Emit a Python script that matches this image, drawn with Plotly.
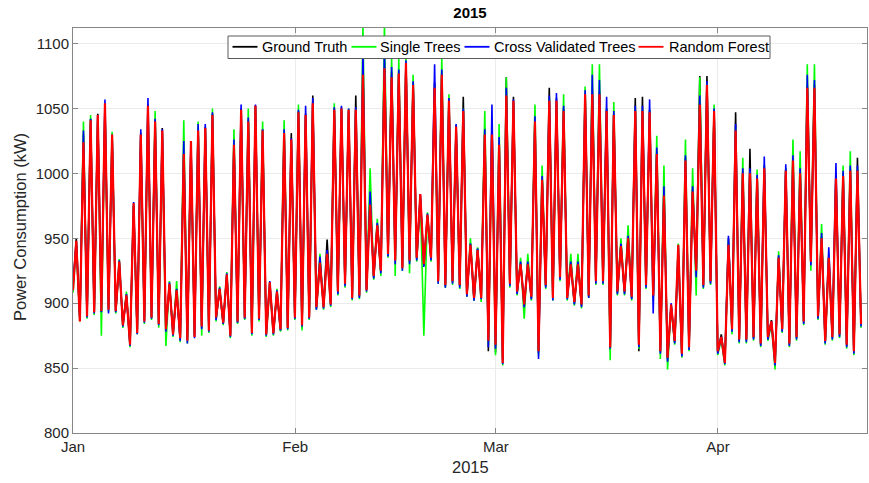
import pandas as pd
import plotly.graph_objects as go

# Hourly power consumption, summarised per day as the daytime peak (kW)
# and the night-time low that follows it, for 110 days from 1 Jan 2015.
start_values = {"Ground Truth": 912, "Single Trees": 908,
                "Cross Validated Trees": 913, "Random Forest": 910}

truth_peak = [950, 1030, 1042, 1046, 1053, 1029, 930, 905, 975, 1031,
              1053, 1041, 1035, 914, 909, 1017, 1022, 1034, 1036, 1046,
              910, 921, 1024, 1050, 1041, 1052, 1034, 915, 908, 1032,
              1031, 1048, 1046, 1060, 932, 949, 1050, 1051, 1048, 1060,
              1080, 978, 961, 1085, 1078, 1079, 1086, 1070, 983, 967,
              1070, 1078, 1057, 1037, 1059, 946, 942, 1035, 1040, 1025,
              1074, 1059, 931, 931, 1042, 997, 1066, 1058, 1050, 931,
              931, 1062, 1065, 1063, 1050, 1046, 945, 951, 1058, 1059,
              1049, 1017, 988, 898, 938, 1012, 988, 1075, 1075, 1049,
              876, 950, 1047, 1002, 1019, 998, 1006, 887, 936, 1004,
              1012, 1002, 1068, 1068, 951, 936, 998, 1000, 1004, 1012]
truth_low = [887, 891, 893, 893, 896, 893, 884, 869, 878, 887,
             889, 885, 879, 877, 872, 872, 875, 881, 880, 888,
             884, 876, 885, 888, 878, 887, 877, 878, 879, 882,
             888, 881, 888, 896, 898, 900, 908, 914, 905, 905,
             911, 920, 924, 937, 934, 928, 932, 934, 929, 934,
             918, 913, 916, 913, 906, 903, 905, 863, 862, 856,
             914, 908, 900, 904, 862, 913, 905, 919, 905, 900,
             898, 905, 916, 916, 864, 908, 908, 904, 863, 913,
             905, 862, 857, 870, 860, 865, 924, 913, 916, 862,
             855, 879, 871, 871, 873, 868, 873, 855, 879, 868,
             873, 885, 931, 889, 870, 873, 875, 867, 862, 883]

single_peak = [945, 1040, 1045, 1043, 1050, 1032, 934, 909, 976, 1028,
               1050, 1048, 1030, 917, 917, 1041, 1022, 1040, 1034, 1050,
               913, 924, 1034, 1047, 1050, 1050, 1040, 914, 911, 1041,
               1024, 1053, 1044, 1052, 938, 940, 1054, 1049, 1050, 1050,
               1115, 1004, 965, 1115, 1089, 1089, 1089, 1076, 982, 970,
               1068, 1089, 1061, 1035, 1050, 950, 943, 1048, 1035, 1038,
               1074, 1055, 935, 938, 1053, 1006, 1058, 1055, 1061, 938,
               938, 1067, 1084, 1084, 1050, 1055, 950, 960, 1050, 1050,
               1049, 1029, 1006, 898, 946, 1026, 1004, 1074, 1070, 1053,
               872, 948, 1035, 1012, 1002, 1003, 1006, 884, 940, 1004,
               1026, 1017, 1084, 1084, 961, 938, 1000, 1006, 1017, 1004]
single_low = [886, 888, 891, 875, 893, 892, 881, 866, 876, 884,
              887, 881, 867, 874, 870, 869, 876, 875, 877, 886,
              883, 873, 884, 887, 875, 886, 874, 875, 878, 879,
              887, 879, 887, 895, 895, 897, 906, 912, 902, 903,
              908, 918, 921, 935, 921, 925, 923, 932, 875, 932,
              915, 912, 914, 911, 905, 902, 901, 868, 860, 852,
              912, 906, 888, 902, 860, 911, 902, 917, 902, 898,
              896, 904, 914, 914, 856, 906, 906, 902, 865, 911,
              902, 857, 849, 868, 858, 863, 906, 911, 914, 860,
              852, 876, 869, 869, 871, 866, 871, 849, 877, 866,
              871, 883, 925, 887, 868, 871, 873, 865, 860, 881]

cv_peak = [947, 1033, 1042, 1045, 1057, 1030, 933, 907, 978, 1034,
           1058, 1042, 1034, 916, 911, 1025, 1025, 1038, 1038, 1047,
           912, 923, 1026, 1053, 1043, 1053, 1034, 917, 910, 1034,
           1027, 1049, 1052, 1058, 936, 941, 1051, 1052, 1050, 1051,
           1095, 986, 962, 1095, 1082, 1080, 1087, 1071, 984, 969,
           1084, 1080, 1058, 1038, 1050, 946, 942, 1034, 1053, 1028,
           1066, 1057, 932, 932, 1044, 998, 1060, 1062, 1052, 932,
           932, 1064, 1076, 1072, 1059, 1048, 946, 952, 1052, 1052,
           1057, 1020, 990, 900, 944, 1014, 990, 1060, 1071, 1050,
           874, 952, 1038, 1004, 1004, 999, 1013, 886, 937, 1007,
           1014, 1004, 1076, 1072, 954, 943, 1008, 1002, 1006, 1006]
cv_low = [887, 889, 892, 893, 892, 893, 882, 867, 876, 885,
          888, 883, 878, 875, 871, 869, 873, 880, 878, 887,
          884, 874, 885, 888, 876, 887, 875, 876, 879, 880,
          888, 882, 888, 895, 896, 898, 907, 913, 903, 904,
          909, 919, 923, 936, 930, 925, 930, 933, 928, 933,
          915, 912, 915, 912, 905, 902, 903, 866, 865, 853,
          913, 907, 897, 903, 857, 912, 902, 918, 903, 899,
          897, 904, 915, 915, 865, 907, 907, 903, 866, 912,
          892, 861, 855, 869, 859, 864, 920, 912, 915, 861,
          853, 878, 870, 870, 872, 867, 872, 852, 878, 867,
          872, 884, 929, 888, 869, 872, 874, 866, 861, 882]

rf_peak = [948, 1024, 1041, 1045, 1054, 1030, 932, 906, 977, 1030,
           1052, 1040, 1033, 915, 910, 1015, 1025, 1033, 1035, 1045,
           911, 922, 1022, 1049, 1040, 1052, 1033, 916, 909, 1031,
           1026, 1047, 1045, 1054, 931, 938, 1049, 1050, 1049, 1049,
           1076, 976, 960, 1081, 1074, 1077, 1085, 1068, 984, 968,
           1066, 1076, 1056, 1036, 1048, 945, 941, 1030, 1030, 1022,
           1060, 1056, 930, 930, 1040, 995, 1056, 1056, 1048, 930,
           930, 1061, 1061, 1061, 1048, 1045, 944, 950, 1048, 1048,
           1047, 1015, 983, 899, 945, 1010, 986, 1053, 1068, 1048,
           874, 945, 1033, 1000, 1000, 996, 1004, 886, 935, 1002,
           1010, 1000, 1066, 1066, 950, 935, 996, 998, 1002, 1002]
rf_low = [886, 890, 893, 894, 895, 894, 883, 868, 877, 886,
          889, 884, 880, 876, 873, 871, 874, 882, 879, 889,
          885, 875, 886, 889, 877, 888, 876, 877, 880, 881,
          889, 883, 889, 897, 897, 899, 909, 915, 904, 906,
          910, 921, 925, 938, 933, 927, 933, 935, 930, 935,
          917, 914, 917, 914, 907, 904, 904, 871, 868, 854,
          915, 909, 899, 905, 863, 914, 904, 920, 904, 901,
          899, 906, 917, 917, 866, 909, 909, 905, 868, 914,
          906, 863, 858, 871, 861, 866, 925, 914, 917, 863,
          854, 880, 872, 872, 874, 869, 874, 854, 880, 869,
          874, 886, 932, 890, 871, 874, 876, 868, 863, 884]

series = [
    ("Ground Truth", truth_peak, truth_low, "#000000", 1.6),
    ("Single Trees", single_peak, single_low, "#00ff00", 1.6),
    ("Cross Validated Trees", cv_peak, cv_low, "#0000ff", 1.6),
    ("Random Forest", rf_peak, rf_low, "#ff0000", 2.2),
]

base = pd.Timestamp("2015-01-01")
PEAK_HOUR, LOW_HOUR = 11, 23


def build(name, peaks, lows):
    t = [base]
    v = [start_values[name]]
    for d, (p, lo) in enumerate(zip(peaks, lows)):
        t.append(base + pd.Timedelta(days=d, hours=PEAK_HOUR))
        v.append(p)
        t.append(base + pd.Timedelta(days=d, hours=LOW_HOUR))
        v.append(lo)
    return t, v


FONT = "Liberation Sans, Arial, Helvetica, sans-serif"
AXIS_GREY = "#868686"
TEXT_GREY = "#262626"
GRID_GREY = "#ebebeb"

# plot area in pixels (figure is 869 x 483)
PL, PR, PT, PB = 73, 867, 28, 433


def px_x(x):
    return (x - PL) / (PR - PL)


def px_y(y):
    return (PB - y) / (PB - PT)


fig = go.Figure()
for name, peaks, lows, color, width in series:
    t, v = build(name, peaks, lows)
    fig.add_trace(go.Scatter(x=t, y=v, mode="lines", name=name,
                             line=dict(color=color, width=width)))

# Boxed horizontal legend across the top of the axes
legend_shapes = [dict(type="rect", xref="paper", yref="paper",
                      x0=px_x(228), x1=px_x(770), y0=px_y(58.5), y1=px_y(36),
                      fillcolor="white", line=dict(color="#5a5a5a", width=1))]
legend_notes = []
legend_slots = [(232.5, 260), (351.5, 378), (464.5, 491.5), (638.5, 667)]
for (name, _, _, color, _), (lx, tx) in zip(series, legend_slots):
    legend_shapes.append(dict(type="line", xref="paper", yref="paper",
                              x0=px_x(lx), x1=px_x(lx + 25),
                              y0=px_y(46.8), y1=px_y(46.8),
                              line=dict(color=color, width=1.8)))
    legend_notes.append(dict(text=name, x=px_x(tx), xref="paper",
                             y=px_y(46.8), yref="paper", xanchor="left",
                             yanchor="middle", showarrow=False,
                             font=dict(size=14.5, color="#000000")))

month_ticks = ["2015-01-01", "2015-02-01", "2015-03-01", "2015-04-01"]
month_labels = ["Jan", "Feb", "Mar", "Apr"]
y_ticks = [800, 850, 900, 950, 1000, 1050, 1100]

fig.update_layout(
    width=869, height=483,
    margin=dict(l=PL, r=869 - PR, t=PT, b=483 - PB),
    paper_bgcolor="white", plot_bgcolor="white",
    font=dict(family=FONT, color=TEXT_GREY, size=15),
    title=dict(text="<b>2015</b>", x=0.5, xref="paper", xanchor="center",
               y=1 - 13 / 483, yref="container", yanchor="middle",
               font=dict(size=15, color="#000000")),
    showlegend=False,
    xaxis=dict(range=["2015-01-01", "2015-04-21 19:00"], tickvals=month_ticks,
               ticktext=month_labels, showgrid=True, gridcolor=GRID_GREY,
               gridwidth=1, showline=True, linecolor=AXIS_GREY, linewidth=1,
               mirror="ticks", ticks="inside", ticklen=5, tickcolor=AXIS_GREY,
               zeroline=False, tickfont=dict(size=15, color=TEXT_GREY)),
    yaxis=dict(range=[800, 1112], tickvals=y_ticks, showgrid=True,
               gridcolor=GRID_GREY, gridwidth=1, showline=True,
               linecolor=AXIS_GREY, linewidth=1, mirror="ticks",
               ticks="inside", ticklen=5, tickcolor=AXIS_GREY, zeroline=False,
               tickfont=dict(size=15, color=TEXT_GREY)),
    shapes=legend_shapes,
    annotations=[
        dict(text="2015", x=0.5, xref="paper", y=px_y(467), yref="paper",
             xanchor="center", yanchor="middle", showarrow=False,
             font=dict(size=16.5, color=TEXT_GREY)),
        dict(text="Power Consumption (kW)", x=px_x(20), xref="paper",
             y=px_y(227), yref="paper", xanchor="center", yanchor="middle",
             textangle=-90, showarrow=False,
             font=dict(size=16.5, color=TEXT_GREY)),
    ] + legend_notes,
)

fig.write_html("out.html")
